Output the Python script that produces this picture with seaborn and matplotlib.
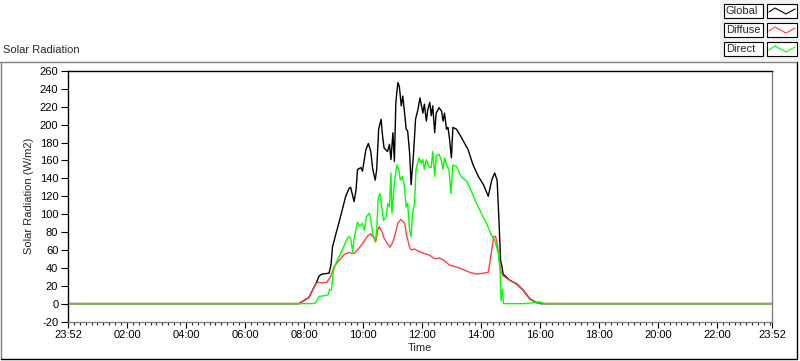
import matplotlib
matplotlib.use("Agg")
import matplotlib.pyplot as plt
import seaborn as sns
import pandas as pd
from matplotlib.ticker import MultipleLocator
from matplotlib.lines import Line2D
from matplotlib.patches import Rectangle

sns.set_style("white")
plt.rcParams['font.family'] = ['Liberation Sans', 'DejaVu Sans']
plt.rcParams['axes.unicode_minus'] = False

# readings (time of day, W/m2)
global_time = ["00:00", "07:50", "08:10", "08:24", "08:31", "08:37", "08:51", "08:55", "08:58",
               "09:05", "09:11", "09:18", "09:25", "09:32", "09:35", "09:42", "09:46", "09:49",
               "09:56", "09:59", "10:06", "10:11", "10:16", "10:20", "10:25", "10:28", "10:32",
               "10:37", "10:40", "10:43", "10:50", "10:54", "10:57", "11:01", "11:04", "11:07",
               "11:11", "11:14", "11:18", "11:21", "11:24", "11:28", "11:31", "11:35", "11:38",
               "11:43", "11:47", "11:52", "11:56", "12:02", "12:05", "12:09", "12:12", "12:16",
               "12:19", "12:22", "12:26", "12:29", "12:35", "12:40", "12:43", "12:46", "12:50",
               "12:53", "12:56", "13:00", "13:03", "13:10", "13:17", "13:24", "13:34", "13:44",
               "13:55", "14:05", "14:15", "14:22", "14:28", "14:33", "14:37", "14:40", "14:43",
               "14:45", "14:59", "15:13", "15:26", "15:40", "15:54", "16:01", "23:52"]
global_val = [0, 0, 7, 22, 31, 33, 34, 43, 63,
              78, 90, 105, 120, 129, 130, 114, 127, 150,
              152, 148, 172, 179, 170, 150, 138, 150, 195,
              206, 187, 174, 170, 178, 161, 191, 159, 225,
              247, 243, 221, 232, 217, 195, 193, 168, 133,
              168, 206, 217, 230, 213, 223, 204, 217, 225,
              210, 221, 191, 213, 219, 215, 204, 213, 195,
              197, 185, 163, 197, 195, 189, 182, 172, 155,
              142, 133, 120, 138, 146, 138, 90, 48, 41,
              33, 26, 22, 15, 5, 1, 0, 0]

diffuse_time = ["00:00", "07:50", "08:10", "08:24", "08:29", "08:37", "08:47", "08:55", "09:01",
                "09:11", "09:22", "09:32", "09:42", "09:49", "09:59", "10:10", "10:16", "10:23",
                "10:26", "10:30", "10:33", "10:39", "10:43", "10:50", "10:55", "11:01", "11:06",
                "11:11", "11:17", "11:25", "11:29", "11:35", "11:38", "11:45", "11:55", "12:05",
                "12:16", "12:26", "12:36", "12:46", "12:56", "13:10", "13:24", "13:37", "13:51",
                "14:05", "14:15", "14:18", "14:22", "14:26", "14:30", "14:33", "14:37", "14:40",
                "14:45", "14:59", "15:10", "15:20", "15:26", "15:40", "15:54", "16:01", "23:52"]
diffuse_val = [0, 0, 7, 22, 24, 23, 24, 31, 41,
               48, 55, 57, 56, 60, 67, 76, 78, 73,
               69, 82, 86, 80, 73, 67, 63, 69, 78,
               90, 94, 90, 76, 63, 60, 61, 58, 56,
               54, 50, 51, 48, 43, 41, 38, 35, 33,
               34, 35, 45, 60, 75, 75, 67, 52, 37,
               31, 26, 23, 18, 15, 5, 1, 0, 0]

direct_time = ["00:00", "08:18", "08:24", "08:31", "08:44", "08:50", "08:52", "08:56", "09:00",
               "09:05", "09:11", "09:18", "09:25", "09:31", "09:35", "09:39", "09:42", "09:49",
               "09:54", "09:59", "10:03", "10:07", "10:13", "10:16", "10:20", "10:25", "10:28",
               "10:31", "10:35", "10:39", "10:42", "10:47", "10:51", "10:54", "10:57", "10:59",
               "11:04", "11:09", "11:13", "11:16", "11:20", "11:24", "11:28", "11:31", "11:35",
               "11:38", "11:41", "11:45", "11:48", "11:54", "11:59", "12:02", "12:05", "12:09",
               "12:14", "12:19", "12:22", "12:26", "12:29", "12:35", "12:40", "12:43", "12:46",
               "12:50", "12:55", "12:59", "13:03", "13:10", "13:20", "13:31", "13:41", "13:51",
               "14:01", "14:11", "14:22", "14:28", "14:35", "14:39", "14:41", "14:44", "14:46",
               "15:30", "16:00", "16:10", "23:52"]
direct_val = [0, 0, 1, 8, 9, 10, 16, 15, 37,
              45, 52, 60, 69, 75, 73, 58, 73, 91,
              86, 90, 82, 97, 101, 93, 78, 69, 82,
              118, 123, 105, 93, 97, 112, 108, 146, 101,
              135, 155, 150, 138, 142, 133, 108, 112, 82,
              75, 101, 112, 150, 163, 157, 161, 150, 161,
              153, 152, 170, 142, 165, 167, 159, 150, 163,
              155, 150, 123, 155, 153, 142, 137, 125, 112,
              101, 90, 76, 71, 58, 37, 3, 16, 0,
              0, 2, 0, 0]

tick_hours = [0, 2, 4, 6, 8, 10, 12, 14, 16, 18, 20, 22, 23.87]
tick_labels = ["23:52", "02:00", "04:00", "06:00", "08:00", "10:00", "12:00",
               "14:00", "16:00", "18:00", "20:00", "22:00", "23:52"]


def to_hours(times):
    return [int(s[:2]) + int(s[3:]) / 60 for s in times]


frames = []
for name, tt, vv in [("Global", global_time, global_val),
                     ("Diffuse", diffuse_time, diffuse_val),
                     ("Direct", direct_time, direct_val)]:
    frames.append(pd.DataFrame({"hour": to_hours(tt), "value": vv, "series": name}))
df = pd.concat(frames, ignore_index=True)

colors = {"Global": "#000000", "Diffuse": "#ff4040", "Direct": "#00ff00"}
fs = 8

W, H = 800, 361
fig = plt.figure(figsize=(W / 100, H / 100), dpi=100)
fig.patch.set_facecolor("white")
ax = fig.add_axes([68 / W, 1 - 321.5 / H, 704 / W, 250.5 / H])

sns.lineplot(data=df, x="hour", y="value", hue="series", palette=colors,
             hue_order=["Global", "Diffuse", "Direct"], linewidth=1.0,
             estimator=None, sort=False, legend=False, ax=ax)

ax.set_xlim(0, 23.87)
ax.set_ylim(-20, 260)
ax.set_yticks(range(-20, 261, 20))
ax.set_xticks(tick_hours)
ax.set_xticklabels(tick_labels)
ax.xaxis.set_minor_locator(MultipleLocator(0.2))
ax.tick_params(axis="both", which="major", direction="out", labelsize=fs,
               colors="black", pad=2)
ax.tick_params(axis="y", which="major", length=5, width=0.8, left=True)
ax.tick_params(axis="x", which="major", length=4, width=0.8, bottom=True)
ax.tick_params(axis="x", which="minor", length=2.5, width=0.8, bottom=True)
ax.set_xlabel("Time", fontsize=fs, labelpad=2)
ax.set_ylabel("Solar Radiation (W/m2)", fontsize=fs, labelpad=4)
ax.spines["left"].set_color("black")
ax.spines["top"].set_color("black")
ax.spines["right"].set_color("#808080")
ax.spines["bottom"].set_color("#808080")
for s in ax.spines.values():
    s.set_linewidth(1.0)
    s.set_visible(True)


def px(x, y):
    return x / W, 1 - y / H


# outer panel frame
for (x0, y0, x1, y1, c) in [(0, 61.5, 797, 61.5, "#808080"), (1, 61.5, 1, 359, "#808080"),
                            (797, 61.5, 797, 359, "black"), (1, 359, 797, 359, "black")]:
    a, b = px(x0, y0)
    c2, d = px(x1, y1)
    fig.add_artist(Line2D([a, c2], [b, d], color=c, lw=1.0))

fig.text(*px(3, 50), "Solar Radiation", fontsize=fs, va="center", ha="left")

# legend boxes in the top right corner
fig.add_artist(Rectangle(px(720, 61), 80 / W, 61 / H, facecolor="#f2f2f2",
                         edgecolor="none", zorder=0))
for i, name in enumerate(["Global", "Diffuse", "Direct"]):
    top = 4 + i * 19
    fig.add_artist(Rectangle(px(724, top + 14), 39 / W, 14 / H, facecolor="white",
                             edgecolor="black", lw=0.8))
    fig.text(*px(726, top + 7), name, fontsize=fs, va="center", ha="left")
    fig.add_artist(Rectangle(px(767, top + 14), 30 / W, 14 / H, facecolor="white",
                             edgecolor="black", lw=0.8))
    zx = [769, 775, 786, 795]
    zy = [top + 8, top + 4, top + 10, top + 5]
    pts = [px(a, b) for a, b in zip(zx, zy)]
    fig.add_artist(Line2D([p[0] for p in pts], [p[1] for p in pts],
                          color=colors[name], lw=0.8))

fig.savefig("out.png", dpi=100)
